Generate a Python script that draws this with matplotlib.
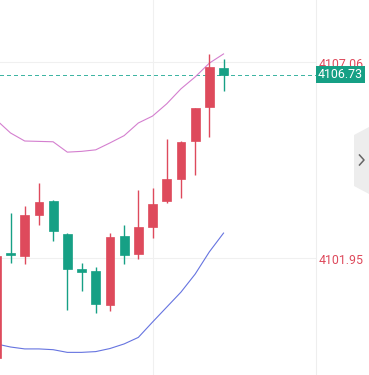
import matplotlib
matplotlib.use('Agg')
import matplotlib.pyplot as plt
from matplotlib.patches import Rectangle, Polygon

# K线数据 (开, 收, 高, 低)
opens = [4099.34, 4102.09, 4102.01, 4103.08, 4103.44, 4102.58, 4101.66, 4101.62, 4100.73,
         4102.52, 4102.06, 4102.77, 4103.44, 4104.02, 4105.01, 4105.89, 4106.90]
closes = [4102.00, 4102.02, 4103.07, 4103.41, 4102.66, 4101.66, 4101.58, 4100.76, 4102.50,
          4102.04, 4102.76, 4103.36, 4104.01, 4104.97, 4105.85, 4106.92, 4106.73]
highs = [4102.05, 4103.13, 4103.31, 4103.91, 4103.46, 4102.59, 4101.81, 4101.71, 4102.61,
         4102.81, 4103.72, 4103.77, 4105.05, 4104.99, 4105.87, 4107.27, 4107.13]
lows = [4099.24, 4101.83, 4101.79, 4102.82, 4102.40, 4100.60, 4101.10, 4100.52, 4100.58,
        4101.80, 4101.93, 4102.46, 4103.39, 4103.52, 4104.11, 4105.10, 4106.31]

# 布林带 上轨 / 下轨
boll_upper = [4105.55, 4105.21, 4105.00, 4104.99, 4104.98, 4104.71, 4104.73, 4104.77, 4104.95,
              4105.14, 4105.47, 4105.65, 4105.97, 4106.36, 4106.67, 4107.03, 4107.27]
boll_lower = [4099.71, 4099.63, 4099.58, 4099.58, 4099.56, 4099.49, 4099.49, 4099.51, 4099.59,
              4099.71, 4099.88, 4100.28, 4100.67, 4101.06, 4101.53, 4102.11, 4102.60]

grid_prices = [4107.06, 4101.95]
last_price = 4106.73

RED = '#de4a5c'
GREEN = '#16a085'
Y0, Y1 = 4098.90, 4108.676

fig = plt.figure(figsize=(3.69, 3.75), dpi=100)
ax = fig.add_axes([0, 0, 316 / 369, 1])

# 网格
for gp in grid_prices:
    ax.axhline(gp, color='#f0f0f0', lw=0.8, zorder=0)
ax.axvline(11, color='#f0f0f0', lw=0.8, zorder=0)

# 布林带
xs = list(range(len(opens)))
ax.plot(xs, boll_upper, color='#d47fcf', lw=0.8, zorder=2)
ax.plot(xs, boll_lower, color='#6674e0', lw=0.8, zorder=2)

# K线
w = 0.62
for i, (o, c, h, l) in enumerate(zip(opens, closes, highs, lows)):
    col = RED if c >= o else GREEN
    ax.plot([i, i], [l, h], color=col, lw=1.0, zorder=3, solid_capstyle='butt')
    bot = min(o, c)
    ht = max(abs(c - o), 0.06)
    ax.add_patch(Rectangle((i - w / 2, bot), w, ht, facecolor=col, edgecolor=col, lw=0.5, zorder=4))

# 最新价虚线
ax.axhline(last_price, color='#3fb5a3', lw=0.75, ls=(0, (3, 3)), zorder=1, antialiased=False)

ax.set_xlim(0.26, 22.51)
ax.set_ylim(Y0, Y1)
ax.axis('off')

# 右侧价格轴
fig.add_artist(plt.Line2D([316 / 369, 316 / 369], [0, 1], color='#eeeeee', lw=0.8))


def fy(p, dpx=0.0):
    return (p - Y0) / (Y1 - Y0) - dpx / 375


for gp in grid_prices:
    fig.text(319 / 369, fy(gp, 2.5), f'{gp:.2f}', color=RED, fontsize=8.9,
             family='Roboto', va='center', ha='left', zorder=5)
fig.patches.append(Rectangle((316 / 369, 292 / 375), 49 / 369, 17 / 375,
                             transform=fig.transFigure, facecolor=GREEN,
                             edgecolor='none', zorder=6))
fig.text(340.5 / 369, fy(last_price), f'{last_price:.2f}', color='white', fontsize=8.9,
         family='Roboto', va='center', ha='center', zorder=7)

# 右侧折叠按钮
tab = Polygon([(354 / 369, 1 - 135 / 375), (369 / 369, 1 - 127 / 375),
               (369 / 369, 1 - 194 / 375), (354 / 369, 1 - 186 / 375)],
              closed=True, transform=fig.transFigure, facecolor='#ededed',
              edgecolor='none', zorder=5)
fig.patches.append(tab)
fig.add_artist(plt.Line2D([359.5 / 369, 364 / 369, 359.5 / 369],
                          [1 - 155 / 375, 1 - 160 / 375, 1 - 165 / 375],
                          color='#666666', lw=1.1, zorder=6))

plt.savefig('out.png', dpi=100)
plt.close()
